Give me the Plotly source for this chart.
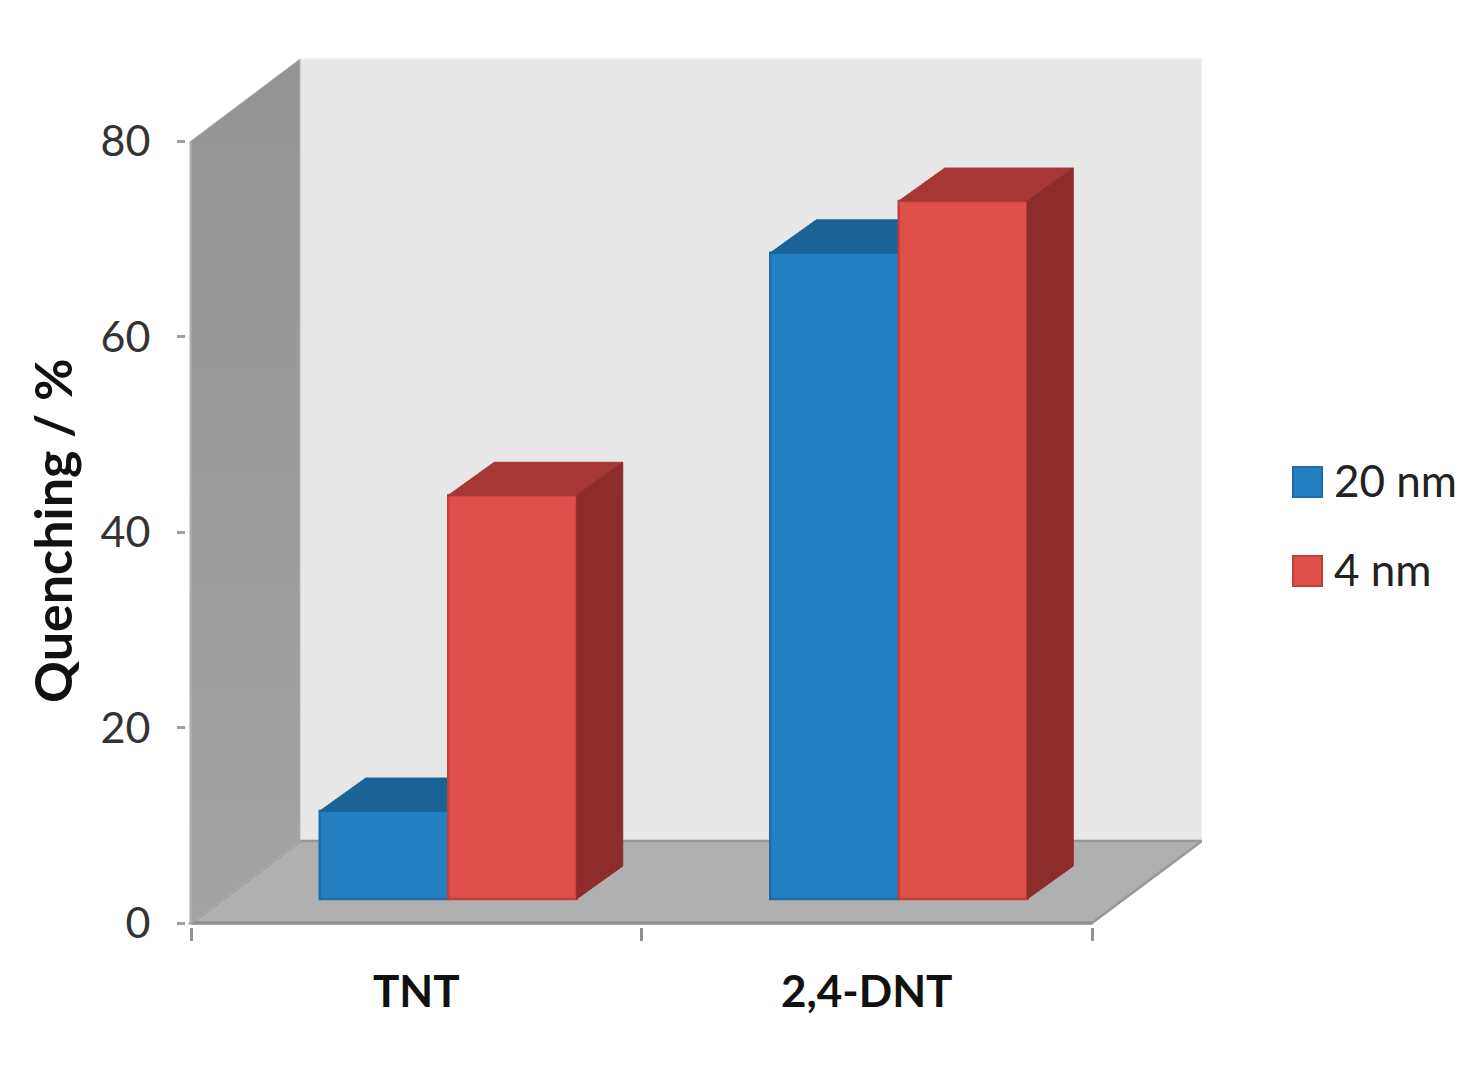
import plotly.graph_objects as go

# ---- data ----
categories = ["TNT", "2,4-DNT"]
series_names = ["20 nm", "4 nm"]
values_20nm = [9.0, 66.1]
values_4nm = [41.3, 71.4]
y_ticks = [0, 20, 40, 60, 80]
y_title = "Quenching / %"

# ---- geometry (axis units: 1 category = 450.5 px, 1 y unit = 9.775 px) ----
UX, UY = 450.5, 9.775
X_MIN, Y_MIN = -5 / UX, -4 / UY           # small pad so axis lines are not clipped
X_MAX, Y_MAX = 1011 / UX, 865 / UY
WALL_DX, WALL_DY = 109 / UX, 82 / UY      # depth of the chart box
SHIFT_X, SHIFT_Y = 32 / UX, 24 / UY       # bars stand inside the floor
BAR_W = 128.5 / UX
BAR_DX, BAR_DY = 46 / UX, 33 / UY         # depth of each bar
centers = [0.5 + SHIFT_X, 1.5 + SHIFT_X]

FONT = "Lato, Carlito, Calibri, sans-serif"
AXIS_GREY = "#929292"


def bar_group(values, x_offset, front, edge, top, side, xa, ya, name):
    traces = [go.Bar(x=centers, y=values, base=[SHIFT_Y] * len(values), width=BAR_W,
                     offset=x_offset, name=name, xaxis=xa, yaxis=ya, showlegend=False,
                     marker=dict(color=front, line=dict(color=edge, width=2.5)))]
    for c, v in zip(centers, values):
        x0 = c + x_offset
        x1 = x0 + BAR_W
        yt = SHIFT_Y + v
        traces.append(go.Scatter(
            x=[x0, x0 + BAR_DX, x1 + BAR_DX, x1, x0],
            y=[yt, yt + BAR_DY, yt + BAR_DY, yt, yt],
            mode="lines", fill="toself", fillcolor=top, line=dict(color=top, width=1),
            xaxis=xa, yaxis=ya, showlegend=False, hoverinfo="skip"))
        traces.append(go.Scatter(
            x=[x1, x1 + BAR_DX, x1 + BAR_DX, x1, x1],
            y=[SHIFT_Y, SHIFT_Y + BAR_DY, yt + BAR_DY, yt, SHIFT_Y],
            mode="lines", fill="toself", fillcolor=side, line=dict(color=side, width=1),
            xaxis=xa, yaxis=ya, showlegend=False, hoverinfo="skip"))
    return traces


fig = go.Figure()

# left wall
fig.add_trace(go.Scatter(
    x=[0, WALL_DX, WALL_DX, 0, 0],
    y=[80, 80 + WALL_DY, WALL_DY, 0, 80],
    mode="lines", fill="toself", line=dict(color="#B4B4B4", width=1),
    fillgradient=dict(type="vertical", colorscale=[[0, "#A3A3A3"], [1, "#949494"]]),
    showlegend=False, hoverinfo="skip"))

for t in bar_group(values_20nm, -BAR_W, "#2580C3", "#1A6DA9", "#1B6396", "#1B5F8F", "x", "y", series_names[0]):
    fig.add_trace(t)
for t in bar_group(values_4nm, 0, "#DF504A", "#BF3F3B", "#A63735", "#8E2C2B", "x2", "y2", series_names[1]):
    fig.add_trace(t)

shapes = [
    # back wall
    dict(type="rect", x0=WALL_DX, x1=X_MAX, y0=WALL_DY, y1=80 + WALL_DY, xref="x", yref="y",
         fillcolor="#E7E7E7", line=dict(color="#EFEFEF", width=2), layer="below"),
    # floor
    dict(type="path", xref="x", yref="y", layer="below",
         path=f"M 0 0 L {WALL_DX} {WALL_DY} L {X_MAX} {WALL_DY} L 2 0 Z",
         fillcolor="#B0B0B0", line=dict(color="#979797", width=2.5)),
    # axis lines
    dict(type="line", xref="x", yref="y", x0=0, x1=2, y0=0, y1=0, layer="below",
         line=dict(color=AXIS_GREY, width=3.5)),
    dict(type="line", xref="x", yref="y", x0=0, x1=0, y0=0, y1=80, layer="below",
         line=dict(color="#ABABAB", width=3)),
]

# hand-built legend, to get the large square keys of the reference
legend_y = [482, 571]
legend_colors = [("#2580C3", "#1A6DA9"), ("#DF504A", "#BF3F3B")]
annotations = []
PX = lambda px: (px - 186) / 1016
PY = lambda py: (927 - py) / 869
for name, ly, (fc, ec) in zip(series_names, legend_y, legend_colors):
    shapes.append(dict(type="rect", xref="paper", yref="paper",
                       x0=PX(1293), x1=PX(1322), y0=PY(ly + 15), y1=PY(ly - 15),
                       fillcolor=fc, line=dict(color=ec, width=2)))
    annotations.append(dict(text=name, xref="paper", yref="paper", x=PX(1332), y=PY(ly - 2),
                            xanchor="left", yanchor="middle", showarrow=False,
                            font=dict(family=FONT, size=44, color="#222222")))

annotations.append(dict(text=f"<b>{y_title}</b>", xref="paper", yref="paper", x=PX(52), y=PY(531),
                        xanchor="center", yanchor="middle", textangle=-90, showarrow=False,
                        font=dict(family=FONT, size=52, color="#111111")))

fig.update_layout(
    width=1480, height=1074, margin=dict(l=186, r=278, t=58, b=147, autoexpand=False),
    paper_bgcolor="white", plot_bgcolor="rgba(0,0,0,0)", showlegend=False,
    shapes=shapes, annotations=annotations,
    xaxis=dict(range=[X_MIN, X_MAX], tickmode="array", tickvals=[0.5, 1.5],
               ticktext=[f"<b>{c}</b>" for c in categories], ticks="outside", ticklen=0,
               ticklabelstandoff=26, showgrid=False, zeroline=False, showline=False,
               tickfont=dict(family=FONT, size=44, color="#111111"),
               minor=dict(tickmode="array", tickvals=[0, 1, 2], ticks="outside", ticklen=13,
                          tickwidth=3, tickcolor=AXIS_GREY, showgrid=False)),
    yaxis=dict(range=[Y_MIN, Y_MAX], tickmode="array", tickvals=y_ticks, ticks="outside", ticklen=8,
               tickwidth=3, tickcolor="#A0A0A0", ticklabelstandoff=18, showgrid=False,
               zeroline=False, showline=False,
               tickfont=dict(family=FONT, size=43, color="#333333")),
    xaxis2=dict(range=[X_MIN, X_MAX], overlaying="x", visible=False),
    yaxis2=dict(range=[Y_MIN, Y_MAX], overlaying="y", visible=False),
)

fig.write_html("out.html", config=dict(displayModeBar=False),
               post_script="document.body.style.margin='0';document.body.style.overflow='hidden';")
